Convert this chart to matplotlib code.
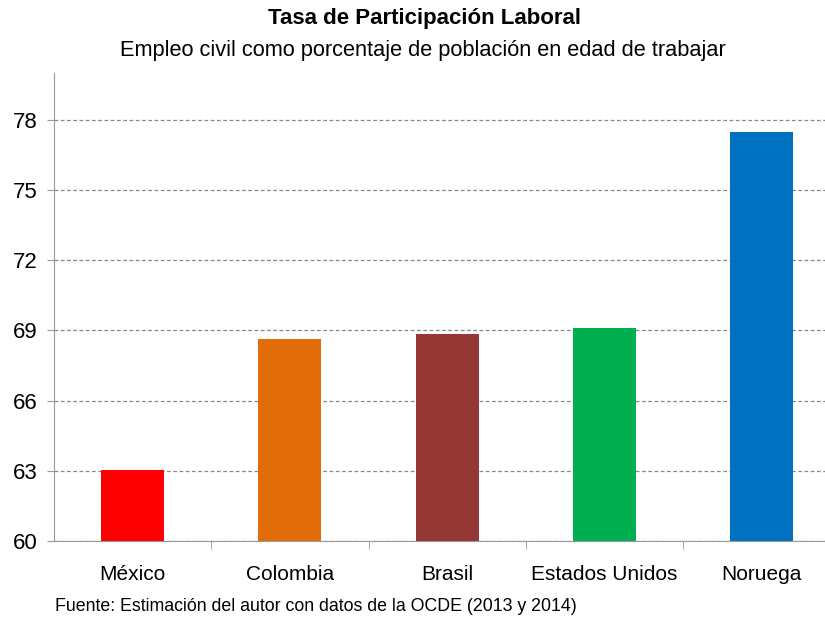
import matplotlib.pyplot as plt

plt.rcParams['font.family'] = ['Liberation Sans', 'DejaVu Sans']

# data
paises = ["México", "Colombia", "Brasil", "Estados Unidos", "Noruega"]
tasas = [63.05, 68.65, 68.85, 69.1, 77.5]
colores = ["#FF0000", "#E36C0A", "#953735", "#00B050", "#0070C0"]
yticks = [60, 63, 66, 69, 72, 75, 78]

fig = plt.figure(figsize=(8.25, 6.28), dpi=100)
ax = fig.add_axes([0.0655, 0.1385, 0.953, 0.745])

x = list(range(len(paises)))
ax.bar(x, [t - 60 for t in tasas], bottom=60, width=0.4, color=colores, zorder=3)

ax.set_xlim(-0.5, len(paises) - 0.5)
ax.set_ylim(60, 80)
ax.set_yticks(yticks)
ax.set_yticklabels([str(v) for v in yticks], fontsize=16)
ax.set_xticks(x)
ax.set_xticklabels(paises, fontsize=15)
ax.tick_params(axis='x', length=0, pad=17)
ax.tick_params(axis='y', length=5, color="#999999", pad=7)

# marcas entre categorias
ax.set_xticks([i + 0.5 for i in range(len(paises) - 1)], minor=True)
ax.tick_params(axis='x', which='minor', length=6, color="#999999")

ax.yaxis.grid(True, linestyle=(0, (3, 2)), color="#888888", linewidth=0.9, zorder=0)
for s in ["top", "right"]:
    ax.spines[s].set_visible(False)
ax.spines["left"].set_color("#999999")
ax.spines["bottom"].set_color("#999999")

fig.text(0.515, 0.97, "Tasa de Participación Laboral", ha="center", va="center",
         fontsize=16, fontweight="bold")
fig.text(0.513, 0.92, "Empleo civil como porcentaje de población en edad de trabajar",
         ha="center", va="center", fontsize=15.7)
fig.text(0.067, 0.035, "Fuente: Estimación del autor con datos de la OCDE (2013 y 2014)",
         ha="left", va="center", fontsize=12.8)

fig.savefig("out.png", dpi=100)
